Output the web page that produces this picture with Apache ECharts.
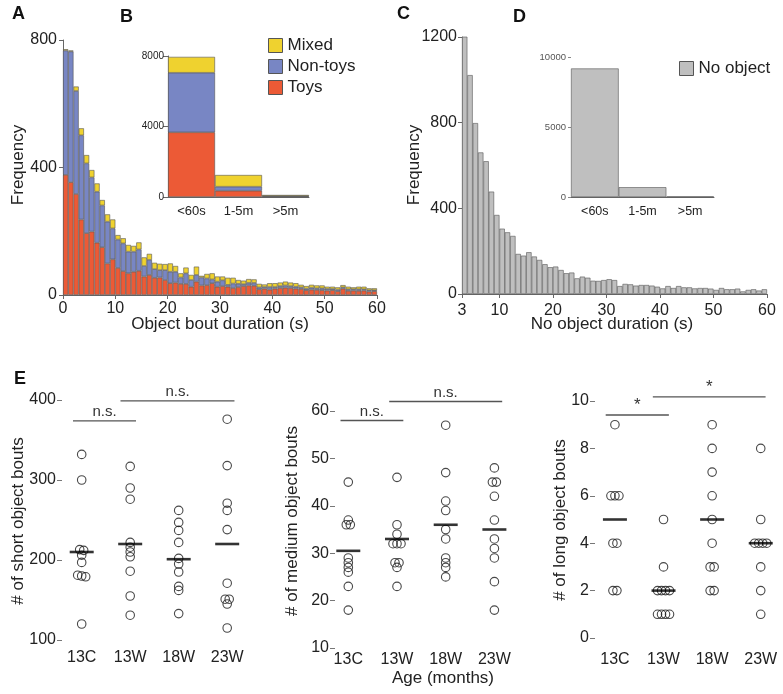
<!DOCTYPE html>
<html><head><meta charset="utf-8">
<script src="https://cdn.jsdelivr.net/npm/echarts@6/dist/echarts.min.js"></script>
<style>html,body{margin:0;padding:0;background:#fff}#c{width:783px;height:694px}</style>
</head><body><div id="c"></div>
<script>
// ---------- DATA ----------
// Panel A: object bout duration histogram, 1 s bins 0..59
const binsA = Array.from({length:60}, (_, i) => String(i));
const toysA = [377,354,317,237,194,199,164,150,99,112, 85,75,68,73,76,58,63,54,55,47, 37,39,35,35,26,42,30,31,37,26, 28,26,22,25,28,30,29,18,20,17, 20,22,23,22,20,19,15,17,16,15, 14,15,12,20,13,14,13,14,11,12];
const nonToysA = [390,410,323,264,219,170,160,131,131,97, 89,87,68,63,67,33,47,27,23,31, 36,34,20,33,21,21,25,21,12,16, 18,6,14,10,6,8,9,6,5,8, 5,6,7,6,6,5,5,6,5,6, 5,4,5,4,5,4,5,4,4,3];
const mixedA = [4,3,14,22,26,23,26,17,23,28, 14,16,21,18,22,27,19,20,20,19, 26,18,13,18,16,26,5,14,19,16, 12,22,18,12,11,12,11,11,8,12, 12,11,12,11,11,8,8,9,9,9, 7,7,7,7,8,6,8,8,6,6];
const ticksA = [0,10,20,30,40,50,60];
// Panel B: inset
const insetCats = ['<60s','1-5m','>5m'];
const toysB = [3670,357,30];
const nonToysB = [3380,228,25];
const mixedB = [900,663,60];
// Panel C: no-object duration histogram, 1 s bins 3..59
const binsC = Array.from({length:57}, (_, i) => String(i + 3));
const noObjC = [1205,1022,798,661,620,478,369,305,288,271, 187,179,195,175,159,139,125,128,112,97, 100,73,81,76,62,61,65,69,65,37, 47,45,39,42,42,39,34,26,37,28, 37,31,31,26,28,28,25,19,28,22, 22,25,12,19,22,16,22];
const ticksC = [3,10,20,30,40,50,60];
// Panel D: inset
const noObjD = [9180,700,40];
// Panel E
const groups = ['13C','13W','18W','23W'];
const groupTicks = [0,1,2,3];
const shortBouts = [
  [332,300,213,212,206,197,181,180,179,120],
  [317,290,276,222,216,210,204,186,155,131],
  [262,247,237,222,202,195,185,167,162,133],
  [376,318,271,262,238,171,151,151,145,115]
];
const shortMeans = [210,220,201,220];
const mediumBouts = [
  [45,37,36,36,29,28,27,26,23,18],
  [46,36,34,32,32,32,28,28,27,23],
  [57,47,41,39,35,33,29,28,27,25],
  [48,45,45,42,37,33,31,29,24,18]
];
const mediumMeans = [30.5,33,36,35];
const longBouts = [
  [9,6,6,6,4,4,2,2],
  [5,3,2,2,2,2,1,1,1,1],
  [9,8,7,6,5,4,3,3,2,2],
  [8,5,4,4,4,4,3,2,1]
];
const longMeans = [5,2,5,4];
const sigShort = [[-0.18,1.12,374,'n.s.'],[0.8,3.15,399,'n.s.']];
const sigMedium = [[-0.16,1.13,58,'n.s.'],[0.84,3.16,62,'n.s.']];
const sigLong = [[-0.19,1.11,9.41,'*'],[0.78,3.1,10.17,'*']];

// ---------- STYLE ----------
const FONT = '"Liberation Sans", Arial, Helvetica, sans-serif';
const TXT = '#222';
const RED = '#ec5a36', BLUE = '#7886c4', YEL = '#efd22f', GRAY = '#bfbfbf';
const LS = {color:'#666', width:1};
const plain = v => String(v);

const chart = echarts.init(document.getElementById('c'), null, {renderer:'canvas'});

// E panels: x value axis, one unit per group
const E = [
  {left:62, top:400, height:240, min:-0.406, max:3.6, cat:48.5},
  {left:335, top:411, height:237, min:-0.273, max:3.6, cat:48.7},
  {left:595, top:401, height:237, min:-0.41, max:3.6, cat:48.6}
];

const grids = [
  {left:63, top:40, width:314, height:255},
  {left:168, top:56, width:141, height:141},
  {left:462, top:37, width:305, height:257},
  {left:571, top:57, width:143, height:140},
  ...E.map(e => ({left:e.left, top:e.top, height:e.height, width:(e.max - e.min) * e.cat}))
].map(g => Object.assign({containLabel:false, outerBoundsMode:'none'}, g));

function dodge(vals, gi, pxPerUnit, pxPerCat) {
  const sorted = vals.slice().sort((a,b) => b - a);
  const clusters = [];
  sorted.forEach(v => {
    const last = clusters[clusters.length - 1];
    if (last && (last[last.length - 1] - v) * pxPerUnit < 3.5) last.push(v);
    else clusters.push([v]);
  });
  const out = [];
  clusters.forEach(c => c.forEach((v, k) => out.push([gi + (k - (c.length - 1) / 2) * 4 / pxPerCat, v])));
  return out;
}

// k = 0,1,2 : E panel; x axis index 6+k, y axis index 4+k
function eSeries(bouts, means, sig, k, pxPerUnit) {
  const xi = 6 + k, yi = 4 + k;
  const pts = [];
  bouts.forEach((b, gi) => pts.push(...dodge(b, gi, pxPerUnit, E[k].cat)));
  return [
    {type:'scatter', xAxisIndex:xi, yAxisIndex:yi, data:pts, symbol:'circle', symbolSize:8.5,
     itemStyle:{color:'rgba(255,255,255,0)', borderColor:'#1a1a1a', borderWidth:1.1}, z:2, silent:true},
    {type:'scatter', xAxisIndex:xi, yAxisIndex:yi, data:means.map((m, gi) => [gi, m]), symbol:'rect',
     symbolSize:[24,2.6], itemStyle:{color:'#000'}, z:3, silent:true},
    {type:'custom', xAxisIndex:xi, yAxisIndex:yi, data:sig.map(s => [s[0], s[2], s[1]]), clip:false, z:4, silent:true,
     renderItem:(params, api) => {
       const p0 = api.coord([api.value(0), api.value(1)]);
       const p1 = api.coord([api.value(2), api.value(1)]);
       const t = sig[params.dataIndex][3];
       return {type:'group', children:[
         {type:'line', shape:{x1:p0[0], y1:p0[1], x2:p1[0], y2:p1[1]}, style:{stroke:'#555', lineWidth:1.3}},
         {type:'text', x:(p0[0] + p1[0]) / 2, y:p0[1] - 1.5,
          style:{text:t, fontSize:t === '*' ? 17 : 15, fontFamily:FONT, fill:'#333', align:'center', verticalAlign:'bottom'}}
       ]};
     }}
  ];
}

function eX(k, margin) {
  const e = E[k];
  return {type:'value', gridIndex:4 + k, min:e.min, max:e.max, axisLine:{show:false, onZero:false}, axisTick:{show:false},
    splitLine:{show:false},
    axisLabel:{fontSize:16, color:TXT, margin:margin, fontFamily:FONT, customValues:groupTicks,
      formatter:v => groups[Math.round(v)]}};
}
function eY(k, min, max, interval) {
  return {type:'value', gridIndex:4 + k, min:min, max:max, interval:interval,
    axisLine:{show:false, onZero:false}, axisTick:{show:true, length:5, lineStyle:{color:'#777'}},
    axisLabel:{fontSize:16, color:TXT, margin:6, fontFamily:FONT, formatter:plain}, splitLine:{show:false}};
}

const barStyle = c => ({color:c, borderColor:'#555', borderWidth:0.6});

const option = {
  animation:false,
  backgroundColor:'#fff',
  textStyle:{fontFamily:FONT},
  grid:grids,
  legend:[
    {data:['Mixed','Non-toys','Toys'], orient:'vertical', left:268, top:37, padding:0, itemWidth:14, itemHeight:14, itemGap:4,
     icon:'rect', selectedMode:false, textStyle:{fontSize:17, color:TXT, lineHeight:14, fontFamily:FONT},
     itemStyle:{borderColor:'#555', borderWidth:1}},
    {data:['No object'], orient:'vertical', left:679, top:60, padding:0, itemWidth:14, itemHeight:14,
     icon:'rect', selectedMode:false, textStyle:{fontSize:17, color:TXT, lineHeight:14, fontFamily:FONT},
     itemStyle:{borderColor:'#555', borderWidth:1}}
  ],
  xAxis:[
    {type:'category', gridIndex:0, data:binsA, show:false, position:'top'},
    {type:'value', gridIndex:0, min:0, max:60, position:'bottom',
     axisLine:{show:true, lineStyle:LS}, axisTick:{show:true, length:4, lineStyle:LS, customValues:ticksA},
     axisLabel:{fontSize:16, color:TXT, margin:6, customValues:ticksA}, splitLine:{show:false}},
    {type:'category', gridIndex:1, data:insetCats, axisLine:{show:true, lineStyle:LS}, axisTick:{show:false},
     axisLabel:{fontSize:13, color:TXT, margin:8}},
    {type:'category', gridIndex:2, data:binsC, show:false, position:'top'},
    {type:'value', gridIndex:2, min:3, max:60, position:'bottom',
     axisLine:{show:true, lineStyle:LS}, axisTick:{show:true, length:4, lineStyle:LS, customValues:ticksC},
     axisLabel:{fontSize:16, color:TXT, margin:9, customValues:ticksC}, splitLine:{show:false}},
    {type:'category', gridIndex:3, data:insetCats, axisLine:{show:true, lineStyle:LS}, axisTick:{show:false},
     axisLabel:{fontSize:12.5, color:TXT, margin:8}},
    eX(0, 10), eX(1, 4), eX(2, 14)
  ],
  yAxis:[
    {type:'value', gridIndex:0, min:0, max:800, interval:400, axisLine:{show:true, onZero:false, lineStyle:LS},
     axisTick:{show:true, length:4, lineStyle:LS}, axisLabel:{fontSize:16, color:TXT, margin:6, formatter:plain}, splitLine:{show:false}},
    {type:'value', gridIndex:1, min:0, max:8000, interval:4000, axisLine:{show:true, lineStyle:LS},
     axisTick:{show:true, length:5, lineStyle:LS}, axisLabel:{fontSize:10, color:TXT, margin:4, formatter:plain}, splitLine:{show:false}},
    {type:'value', gridIndex:2, min:0, max:1200, interval:400, axisLine:{show:true, onZero:false, lineStyle:LS},
     axisTick:{show:true, length:4, lineStyle:LS}, axisLabel:{fontSize:16, color:TXT, margin:5, formatter:plain}, splitLine:{show:false}},
    {type:'value', gridIndex:3, min:0, max:10000, interval:5000, axisLine:{show:false},
     axisTick:{show:true, length:3, lineStyle:{color:'#888'}}, axisLabel:{fontSize:9.5, color:'#555', margin:5, formatter:plain}, splitLine:{show:false}},
    eY(0, 100, 400, 100),
    eY(1, 10, 60, 10),
    eY(2, 0, 10, 2)
  ],
  series:[
    {type:'bar', name:'Toys', xAxisIndex:0, yAxisIndex:0, stack:'A', data:toysA, barCategoryGap:'0%', itemStyle:barStyle(RED)},
    {type:'bar', name:'Non-toys', xAxisIndex:0, yAxisIndex:0, stack:'A', data:nonToysA, barCategoryGap:'0%', itemStyle:barStyle(BLUE)},
    {type:'bar', name:'Mixed', xAxisIndex:0, yAxisIndex:0, stack:'A', data:mixedA, barCategoryGap:'0%', itemStyle:barStyle(YEL)},
    {type:'bar', name:'Toys', xAxisIndex:2, yAxisIndex:1, stack:'B', data:toysB, barCategoryGap:'0%', itemStyle:barStyle(RED)},
    {type:'bar', name:'Non-toys', xAxisIndex:2, yAxisIndex:1, stack:'B', data:nonToysB, barCategoryGap:'0%', itemStyle:barStyle(BLUE)},
    {type:'bar', name:'Mixed', xAxisIndex:2, yAxisIndex:1, stack:'B', data:mixedB, barCategoryGap:'0%', itemStyle:barStyle(YEL)},
    {type:'bar', name:'No object C', xAxisIndex:3, yAxisIndex:2, data:noObjC, barCategoryGap:'0%', itemStyle:barStyle(GRAY)},
    {type:'bar', name:'No object', xAxisIndex:5, yAxisIndex:3, data:noObjD, barCategoryGap:'0%', itemStyle:barStyle(GRAY)},
    ...eSeries(shortBouts, shortMeans, sigShort, 0, 240/300),
    ...eSeries(mediumBouts, mediumMeans, sigMedium, 1, 237/50),
    ...eSeries(longBouts, longMeans, sigLong, 2, 237/10)
  ],
  graphic:[
    ...[['A',12,14],['B',120,17],['C',397,14],['D',513,17],['E',14,379]].map(p => ({
      type:'text', x:p[1], y:p[2], style:{text:p[0], fontSize:18, fontWeight:'bold', fontFamily:FONT, fill:'#111', align:'left', verticalAlign:'middle'}})),
    ...[['Frequency',18,165,true],['Frequency',414,165,true],['Object bout duration (s)',220,324,false],
        ['No object duration (s)',612,324,false],['# of short object bouts',18,521,true],
        ['# of medium object bouts',292,521,true],['# of long object bouts',560,520,true],
        ['Age (months)',443,678,false]].map(p => ({
      type:'text', x:p[1], y:p[2], rotation:p[3] ? Math.PI/2 : 0,
      style:{text:p[0], fontSize:17, fontFamily:FONT, fill:TXT, align:'center', verticalAlign:'middle'}}))
  ]
};
chart.setOption(option);
</script>
</body></html>
